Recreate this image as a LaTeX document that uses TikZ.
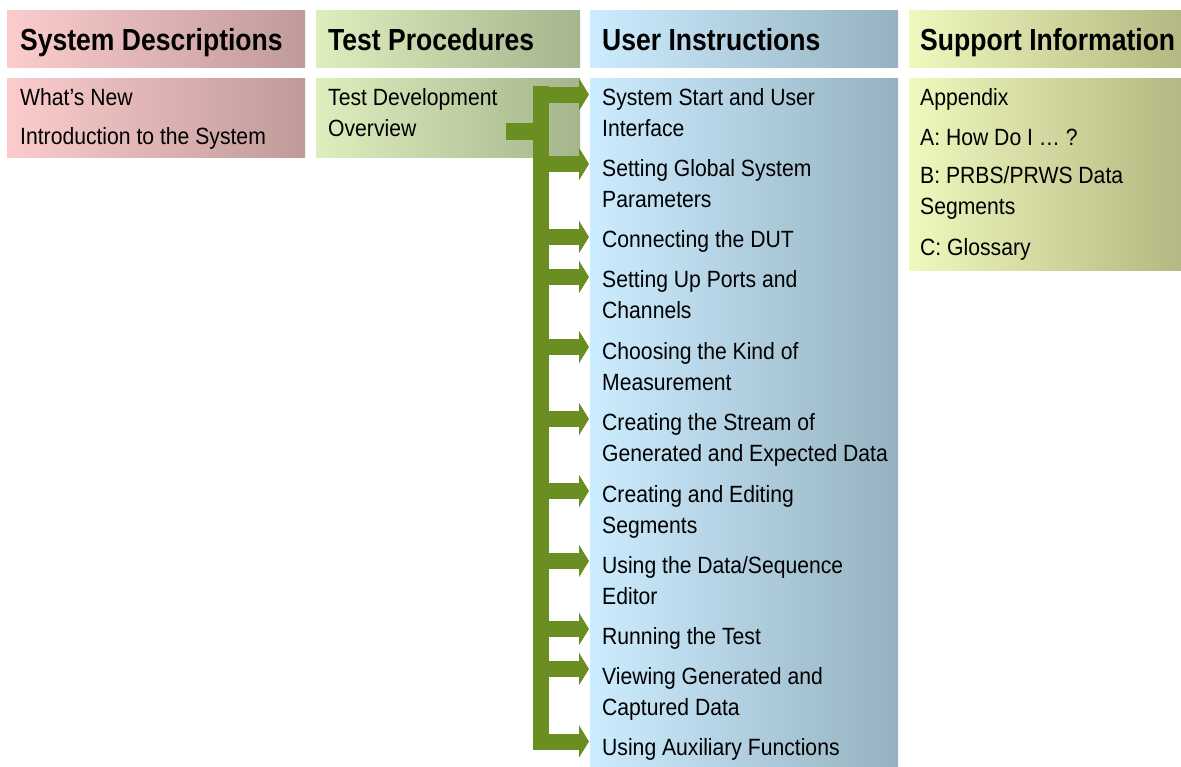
\documentclass[tikz,border=0pt]{standalone}
\usepackage{fontspec}
\setmainfont{Liberation Sans}[FakeStretch=0.9]
\newfontfamily\hdfont{Liberation Sans}[FakeStretch=0.87]
\usetikzlibrary{arrows.meta}
\definecolor{sdL}{RGB}{252,204,204}
\definecolor{sdR}{RGB}{192,154,154}
\definecolor{tpL}{RGB}{222,238,190}
\definecolor{tpR}{RGB}{165,181,140}
\definecolor{uiL}{RGB}{204,236,255}
\definecolor{uiR}{RGB}{150,178,192}
\definecolor{siL}{RGB}{240,248,190}
\definecolor{siR}{RGB}{180,184,130}
\definecolor{arrowgreen}{RGB}{107,142,35}
\tikzset{
  hdtext/.style={anchor=base west, inner sep=0pt, font=\hdfont\bfseries\fontsize{30.5}{36}\selectfont},
  bodytext/.style={anchor=base west, inner sep=0pt, align=left, font=\fontsize{23.5}{31}\selectfont},
  wrapped/.style={yshift=-31pt},
  trunkline/.style={draw=arrowgreen, line width=16pt},
  itemarrow/.style={draw=arrowgreen, line width=16pt, -{Triangle[length=10pt,width=32pt,fill=arrowgreen]}},
}
\begin{document}
\begin{tikzpicture}[x=1pt,y=-1pt]
\useasboundingbox (0,0) rectangle (1181,766);
% boxes
\shade[left color=sdL, right color=sdR] (7,10) rectangle (305,67);
\shade[left color=sdL, right color=sdR] (7,78) rectangle (305,157);
\shade[left color=tpL, right color=tpR] (316,10) rectangle (580,67);
\shade[left color=tpL, right color=tpR] (316,78) rectangle (580,157);
\shade[left color=uiL, right color=uiR] (590,10) rectangle (898,67);
\shade[left color=uiL, right color=uiR] (590,78) rectangle (898,766);
\shade[left color=siL, right color=siR] (909,10) rectangle (1181,67);
\shade[left color=siL, right color=siR] (909,78) rectangle (1181,270);
% headers
\node[hdtext] (hsd) at (20,50) {System Descriptions};
\node[hdtext] (htp) at (328,50) {Test Procedures};
\node[hdtext] (hui) at (602,50) {User Instructions};
\node[hdtext] (hsi) at (920,50) {Support Information};
% system descriptions
\node[bodytext] (sd1) at (20,105) {What’s New};
\node[bodytext] (sd2) at (20,144) {Introduction to the System};
% test procedures
\node[bodytext,wrapped] (tp1) at (328,105) {Test Development\\Overview};
% support information
\node[bodytext] (si1) at (920,105) {Appendix};
\node[bodytext] (si2) at (920,145) {A: How Do I \dots\ ?};
\node[bodytext,wrapped] (si3) at (920,183) {B: PRBS/PRWS Data\\Segments};
\node[bodytext] (si4) at (920,255) {C: Glossary};
% user instructions
\node[bodytext,wrapped] (u1) at (602,105) {System Start and User\\Interface};
\node[bodytext,wrapped] (u2) at (602,176) {Setting Global System\\Parameters};
\node[bodytext] (u3) at (602,247) {Connecting the DUT};
\node[bodytext,wrapped] (u4) at (602,287) {Setting Up Ports and\\Channels};
\node[bodytext,wrapped] (u5) at (602,359) {Choosing the Kind of\\Measurement};
\node[bodytext,wrapped] (u6) at (602,430) {Creating the Stream of\\Generated and Expected Data};
\node[bodytext,wrapped] (u7) at (602,502) {Creating and Editing\\Segments};
\node[bodytext,wrapped] (u8) at (602,573) {Using the Data/Sequence\\Editor};
\node[bodytext] (u9) at (602,644) {Running the Test};
\node[bodytext,wrapped] (u10) at (602,684) {Viewing Generated and\\Captured Data};
\node[bodytext] (u11) at (602,755) {Using Auxiliary Functions};
% connectors
\coordinate (stubstart) at (506,131.5);
\coordinate (trunktop) at (541,86);
\coordinate (trunkbot) at (541,750);
\draw[trunkline] (trunktop) -- (trunkbot);
\draw[draw=arrowgreen, line width=17pt] (stubstart) -- (stubstart -| trunktop);
\foreach \n/\y in {u1/94.5,u2/164,u3/237,u4/277,u5/347,u6/419,u7/491,u8/561,u9/629,u10/669,u11/741.5}{
  \coordinate (s\n) at (533,\y);
  \coordinate (t\n) at (589,\y);
  \draw[itemarrow] (s\n) -- (t\n);
}
\end{tikzpicture}
\end{document}
